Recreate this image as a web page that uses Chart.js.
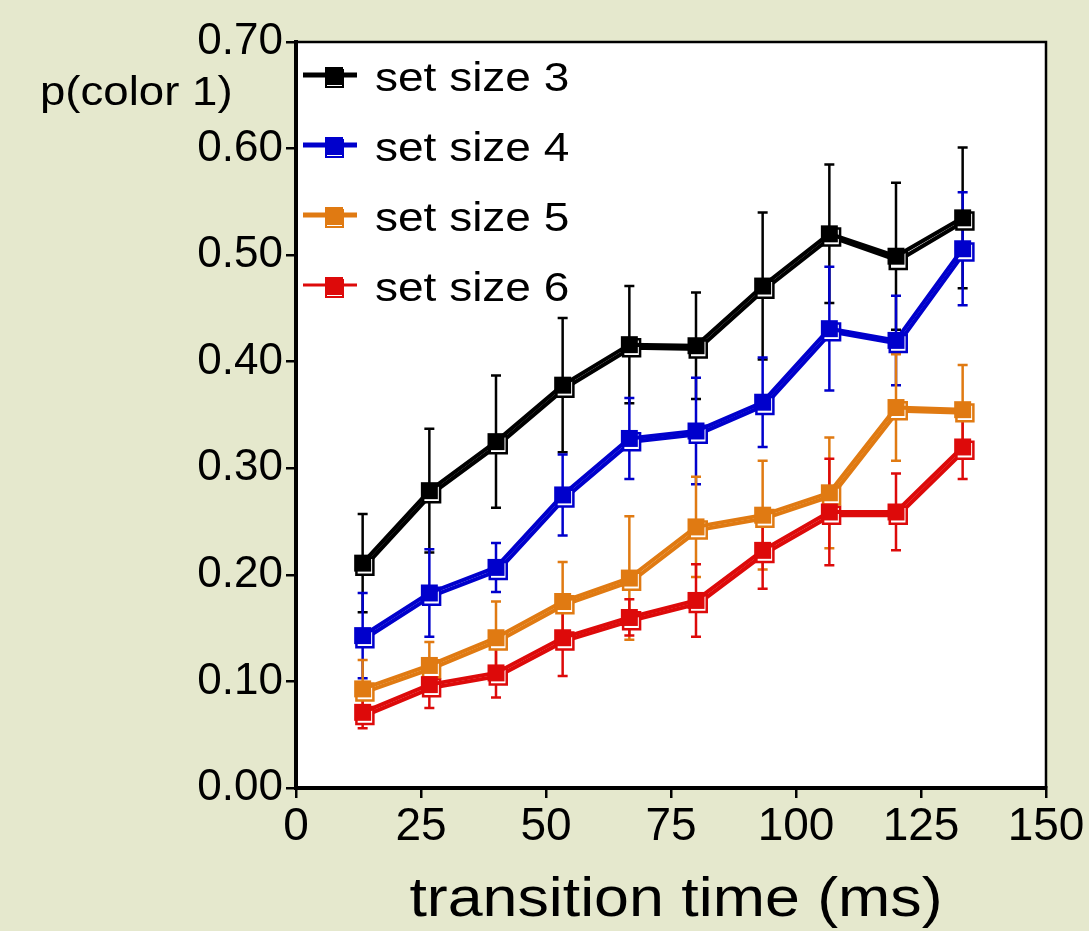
<!DOCTYPE html>
<html>
<head>
<meta charset="utf-8">
<script src="https://cdn.jsdelivr.net/npm/chart.js@4"></script>
<style>
  html, body { margin: 0; padding: 0; background: #e5e8cd; }
  canvas { display: block; }
</style>
</head>
<body>
<canvas id="chart" width="1089" height="931"></canvas>
<script>
// transition times (ms), one frame = 13.33 ms
const times = [13.33, 26.67, 40, 53.33, 66.67, 80, 93.33, 106.67, 120, 133.33];
const openShift = 0.45; // the open squares sit a little to the right

const seriesNames = ['set size 3', 'set size 4', 'set size 5', 'set size 6'];
const seriesColors = ['#000000', '#0000cc', '#e07a12', '#dd0a0a'];

// set size 3
const size3 = [0.211, 0.279, 0.325, 0.378, 0.416, 0.415, 0.471, 0.520, 0.499, 0.535];
const size3Open = [0.208, 0.276, 0.322, 0.375, 0.413, 0.412, 0.468, 0.517, 0.495, 0.532];
const size3Err = [0.046, 0.058, 0.062, 0.063, 0.055, 0.050, 0.069, 0.065, 0.069, 0.066];
// set size 4
const size4 = [0.143, 0.183, 0.207, 0.275, 0.328, 0.335, 0.362, 0.431, 0.420, 0.506];
const size4Open = [0.140, 0.180, 0.204, 0.272, 0.325, 0.332, 0.359, 0.428, 0.417, 0.503];
const size4Err = [0.040, 0.041, 0.023, 0.038, 0.038, 0.050, 0.042, 0.058, 0.042, 0.053];
// set size 5
const size5 = [0.093, 0.115, 0.141, 0.175, 0.197, 0.245, 0.256, 0.277, 0.357, 0.355];
const size5Open = [0.090, 0.112, 0.138, 0.172, 0.194, 0.242, 0.253, 0.274, 0.354, 0.352];
const size5Err = [0.027, 0.022, 0.034, 0.037, 0.058, 0.047, 0.051, 0.052, 0.050, 0.042];
// set size 6
const size6 = [0.071, 0.097, 0.108, 0.141, 0.160, 0.176, 0.223, 0.259, 0.259, 0.320];
const size6Open = [0.068, 0.094, 0.105, 0.138, 0.157, 0.173, 0.220, 0.256, 0.256, 0.317];
const size6Err = [0.015, 0.022, 0.023, 0.036, 0.017, 0.034, 0.036, 0.050, 0.036, 0.030];

const yTicks = [0, 0.1, 0.2, 0.3, 0.4, 0.5, 0.6, 0.7];
const xTicks = [0, 25, 50, 75, 100, 125, 150];

const filled = [size3, size4, size5, size6];
const opened = [size3Open, size4Open, size5Open, size6Open];
const errors = [size3Err, size4Err, size5Err, size6Err];

const FONT = "'Liberation Sans', Arial, sans-serif";
const datasets = [];
filled.forEach(function (vals, i) {
    datasets.push({
        label: seriesNames[i],
        data: vals.map((v, k) => ({ x: times[k], y: v })),
        err: errors[i],
        borderColor: seriesColors[i],
        backgroundColor: seriesColors[i],
        borderWidth: 4,
        pointStyle: 'rect',
        pointRadius: 12,
        pointBorderWidth: 0,
        pointBackgroundColor: seriesColors[i],
        order: 1
    });
    datasets.push({
        label: seriesNames[i] + ' (open)',
        data: opened[i].map((v, k) => ({ x: times[k] + openShift, y: v })),
        borderColor: seriesColors[i],
        backgroundColor: '#ffffff',
        borderWidth: 4,
        pointStyle: 'rect',
        pointRadius: 12,
        pointBorderWidth: 2.5,
        pointBorderColor: seriesColors[i],
        pointBackgroundColor: '#ffffff',
        order: 2
    });
});

// text is a little wider than Liberation Sans in the original
function wideText(ctx, text, x, y, size, sx, align) {
    ctx.save();
    ctx.font = size + 'px ' + FONT;
    ctx.textAlign = align;
    ctx.textBaseline = 'alphabetic';
    ctx.fillStyle = '#000';
    ctx.translate(x, y);
    ctx.scale(sx, 1);
    ctx.fillText(text, 0, 0);
    ctx.restore();
}

const frame = {
    id: 'frame',
    beforeDraw(chart) {
        const { ctx, chartArea: a } = chart;
        ctx.save();
        ctx.fillStyle = '#e5e8cd';
        ctx.fillRect(0, 0, chart.width, chart.height);
        ctx.fillStyle = '#ffffff';
        ctx.fillRect(a.left, a.top, a.right - a.left, a.bottom - a.top);
        ctx.restore();
    },
    beforeDatasetsDraw(chart) {
        // error bars
        const { ctx, scales: { x, y } } = chart;
        ctx.save();
        ctx.lineWidth = 2.5;
        chart.data.datasets.forEach(function (ds) {
            if (!ds.err) return;
            ctx.strokeStyle = ds.borderColor;
            ds.data.forEach(function (p, k) {
                const px = x.getPixelForValue(p.x);
                const top = y.getPixelForValue(p.y + ds.err[k]);
                const bot = y.getPixelForValue(p.y - ds.err[k]);
                ctx.beginPath();
                ctx.moveTo(px, top); ctx.lineTo(px, bot);
                ctx.moveTo(px - 5, top); ctx.lineTo(px + 5, top);
                ctx.moveTo(px - 5, bot); ctx.lineTo(px + 5, bot);
                ctx.stroke();
            });
        });
        ctx.restore();
    },
    afterDraw(chart) {
        const { ctx, chartArea: a } = chart;
        ctx.save();
        // top and right edges of the frame
        ctx.strokeStyle = '#000';
        ctx.lineWidth = 2.5;
        ctx.beginPath();
        ctx.moveTo(a.left, a.top); ctx.lineTo(a.right, a.top); ctx.lineTo(a.right, a.bottom);
        ctx.stroke();

        // titles
        wideText(ctx, 'p(color 1)', 40, 105, 40, 1.14, 'left');
        wideText(ctx, 'transition time (ms)', (a.left + a.right) / 2 + 5, 916, 56, 1.12, 'center');

        // legend
        seriesNames.forEach(function (name, i) {
            const ly = a.top + 33 + i * 70;
            const col = seriesColors[i];
            ctx.strokeStyle = col;
            ctx.lineWidth = i === 3 ? 3 : 5;
            ctx.beginPath();
            ctx.moveTo(a.left + 7, ly); ctx.lineTo(a.left + 61, ly);
            ctx.stroke();
            ctx.fillStyle = '#fff';
            ctx.lineWidth = 2;
            ctx.fillRect(a.left + 30, ly - 5, 17, 17);
            ctx.strokeRect(a.left + 30, ly - 5, 17, 17);
            ctx.fillStyle = col;
            ctx.fillRect(a.left + 29, ly - 8, 18, 18);
            wideText(ctx, name, a.left + 79, ly + 16, 40, 1.15, 'left');
        });
        ctx.restore();
    }
};

new Chart(document.getElementById('chart').getContext('2d'), {
    type: 'line',
    data: { datasets: datasets },
    options: {
        responsive: false,
        animation: false,
        devicePixelRatio: 1,
        layout: { padding: { left: 0, top: 42, right: 43, bottom: 0 } },
        plugins: { legend: { display: false }, tooltip: { enabled: false } },
        scales: {
            x: {
                type: 'linear',
                min: 0,
                max: 150,
                afterBuildTicks: function (s) { s.ticks = xTicks.map(v => ({ value: v })); },
                afterFit: function (s) { s.height = 143; },
                grid: { drawOnChartArea: false, drawTicks: true, tickLength: 10, color: '#000', lineWidth: 2.5 },
                border: { display: true, color: '#000', width: 4 },
                ticks: { color: '#000', font: { family: FONT, size: 46 }, padding: 2, maxRotation: 0 },
                title: { display: false }
            },
            y: {
                min: 0,
                max: 0.7,
                afterBuildTicks: function (s) { s.ticks = yTicks.map(v => ({ value: v })); },
                afterFit: function (s) { s.width = 296; },
                grid: { drawOnChartArea: false, drawTicks: true, tickLength: 10, color: '#000', lineWidth: 2.5 },
                border: { display: true, color: '#000', width: 4 },
                ticks: { color: '#000', font: { family: FONT, size: 44 }, padding: 3, callback: v => v.toFixed(2) }
            }
        }
    },
    plugins: [frame]
});
</script>
</body>
</html>
